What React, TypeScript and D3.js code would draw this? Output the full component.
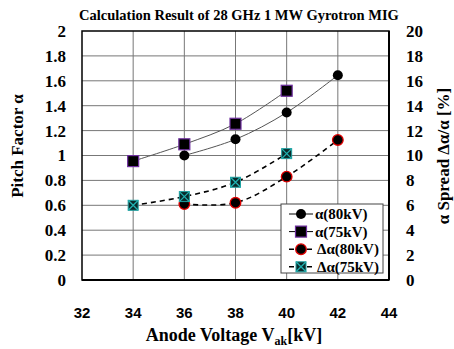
import * as d3 from "d3";
import React from "react";

const voltages = [34, 36, 38, 40, 42];
const alpha80: (number | null)[] = [null, 1.0, 1.13, 1.345, 1.645];
const alpha75: (number | null)[] = [0.955, 1.09, 1.255, 1.52, null];
const spread80: (number | null)[] = [null, 6.1, 6.2, 8.3, 11.25];
const spread75: (number | null)[] = [6.0, 6.7, 7.85, 10.15, null];

const xTicks = [32, 34, 36, 38, 40, 42, 44];
const leftTicks = [0, 0.2, 0.4, 0.6, 0.8, 1, 1.2, 1.4, 1.6, 1.8, 2];
const rightTicks = [0, 2, 4, 6, 8, 10, 12, 14, 16, 18, 20];

const legendNames = ["α(80kV)", "α(75kV)", "Δα(80kV)", "Δα(75kV)"];

const serif = "'Liberation Serif', 'Times New Roman', serif";
const sans = "'Liberation Sans', Arial, sans-serif";

function Marker({ kind, x, y }: { kind: number; x: number; y: number }) {
  if (kind === 0) return <circle cx={x} cy={y} r={5} fill="#000" />;
  if (kind === 1)
    return <rect x={x - 5.5} y={y - 5.5} width={11} height={11} fill="#000" stroke="#7030a0" strokeWidth={1.2} />;
  if (kind === 2) return <circle cx={x} cy={y} r={5.3} fill="#000" stroke="#e00000" strokeWidth={1.3} />;
  return (
    <g>
      <rect x={x - 5} y={y - 5} width={10} height={10} fill="#0a2a2a" stroke="#20a0a0" strokeWidth={1} />
      <path d={`M${x - 5},${y - 5}L${x + 5},${y + 5}M${x + 5},${y - 5}L${x - 5},${y + 5}`} stroke="#20b0b0" strokeWidth={1.3} />
    </g>
  );
}

export default function App() {
  const width = 454;
  const height = 349;
  const m = { left: 82, right: 65, top: 31, bottom: 69 };
  const w = width - m.left - m.right;
  const h = height - m.top - m.bottom;

  const x = d3.scaleLinear().domain([32, 44]).range([0, w]);
  const yL = d3.scaleLinear().domain([0, 2]).range([h, 0]);
  const yR = d3.scaleLinear().domain([0, 20]).range([h, 0]);

  const series = [
    { vals: alpha80, y: yL, dash: undefined },
    { vals: alpha75, y: yL, dash: undefined },
    { vals: spread80, y: yR, dash: "5,4" },
    { vals: spread75, y: yR, dash: "5,4" },
  ];

  const line = (vals: (number | null)[], y: d3.ScaleLinear<number, number>) => {
    const pts = voltages
      .map((v, i) => [v, vals[i]] as [number, number | null])
      .filter((p) => p[1] !== null) as [number, number][];
    return d3
      .line<[number, number]>()
      .x((d) => x(d[0]))
      .y((d) => y(d[1]))
      .curve(d3.curveCatmullRom.alpha(0.5))(pts) || "";
  };

  const lg = { x: 281, y: 204, w: 102, h: 69 };

  return (
    <svg width={width} height={height} style={{ position: "absolute", left: 0, top: 0 }}>
      <rect width={width} height={height} fill="#fff" />
      <text x={239} y={20} textAnchor="middle" fontFamily={serif} fontWeight="bold" fontSize={14.5}>
        Calculation Result of 28 GHz 1 MW Gyrotron MIG
      </text>
      <g transform={`translate(${m.left},${m.top})`}>
        {xTicks.slice(1, -1).map((t) => (
          <line key={"vx" + t} x1={x(t)} x2={x(t)} y1={0} y2={h} stroke="#777" strokeWidth={1} />
        ))}
        {leftTicks.slice(1, -1).map((t) => (
          <line key={"hy" + t} x1={0} x2={w} y1={yL(t)} y2={yL(t)} stroke="#777" strokeWidth={1} />
        ))}
        <rect x={0} y={0} width={w} height={h} fill="none" stroke="#000" strokeWidth={1.5} />
        <line x1={w} x2={w} y1={0} y2={h} stroke="#000" strokeWidth={2} />
        <line x1={0} x2={w} y1={h} y2={h} stroke="#000" strokeWidth={2} />

        {series.map((s, i) => (
          <path key={"l" + i} d={line(s.vals, s.y)} fill="none"
            stroke={s.dash ? "#000" : "#555"} strokeWidth={s.dash ? 1.6 : 1} strokeDasharray={s.dash} />
        ))}
        {series.map((s, i) =>
          voltages.map((v, j) =>
            s.vals[j] === null ? null : <Marker key={`m${i}-${j}`} kind={i} x={x(v)} y={s.y(s.vals[j] as number)} />
          )
        )}

        {leftTicks.map((t) => (
          <text key={"lt" + t} x={-16} y={yL(t)} dy="0.35em" textAnchor="end" fontFamily={serif} fontWeight="bold" fontSize={17}>
            {d3.format("~g")(t)}
          </text>
        ))}
        {rightTicks.map((t) => (
          <text key={"rt" + t} x={w + 17} y={yR(t)} dy="0.35em" textAnchor="start" fontFamily={serif} fontWeight="bold" fontSize={17}>
            {t}
          </text>
        ))}
        {xTicks.map((t) => (
          <text key={"xt" + t} x={x(t)} y={h + 38} textAnchor="middle" fontFamily={sans} fontWeight="bold" fontSize={15}>
            {t}
          </text>
        ))}
      </g>

      <g transform={`translate(${lg.x},${lg.y})`}>
        <rect width={lg.w} height={lg.h} fill="#fff" stroke="#444" strokeWidth={1} />
        {legendNames.map((n, i) => {
          const yy = 10 + i * 17.6;
          return (
            <g key={n}>
              <line x1={8} x2={32} y1={yy} y2={yy} stroke="#000" strokeWidth={i >= 2 ? 1.6 : 1} strokeDasharray={i >= 2 ? "5,4" : undefined} />
              <Marker kind={i} x={20} y={yy} />
              <text x={i >= 2 ? 36 : 34} y={yy} dy="0.35em" fontFamily={serif} fontWeight="bold" fontSize={15}>
                {n}
              </text>
            </g>
          );
        })}
      </g>

      <text transform="translate(23,146) rotate(-90)" textAnchor="middle" fontFamily={serif} fontWeight="bold" fontSize={17}>
        Pitch Factor  α
      </text>
      <text transform="translate(449,156) rotate(-90)" textAnchor="middle" fontFamily={serif} fontWeight="bold" fontSize={17}>
        α Spread  Δα/α [%]
      </text>
      <text x={234} y={341} textAnchor="middle" fontFamily={serif} fontWeight="bold" fontSize={18}>
        Anode Voltage  V<tspan fontSize={12} dy={4}>ak</tspan><tspan dy={-4}>[kV]</tspan>
      </text>
    </svg>
  );
}
